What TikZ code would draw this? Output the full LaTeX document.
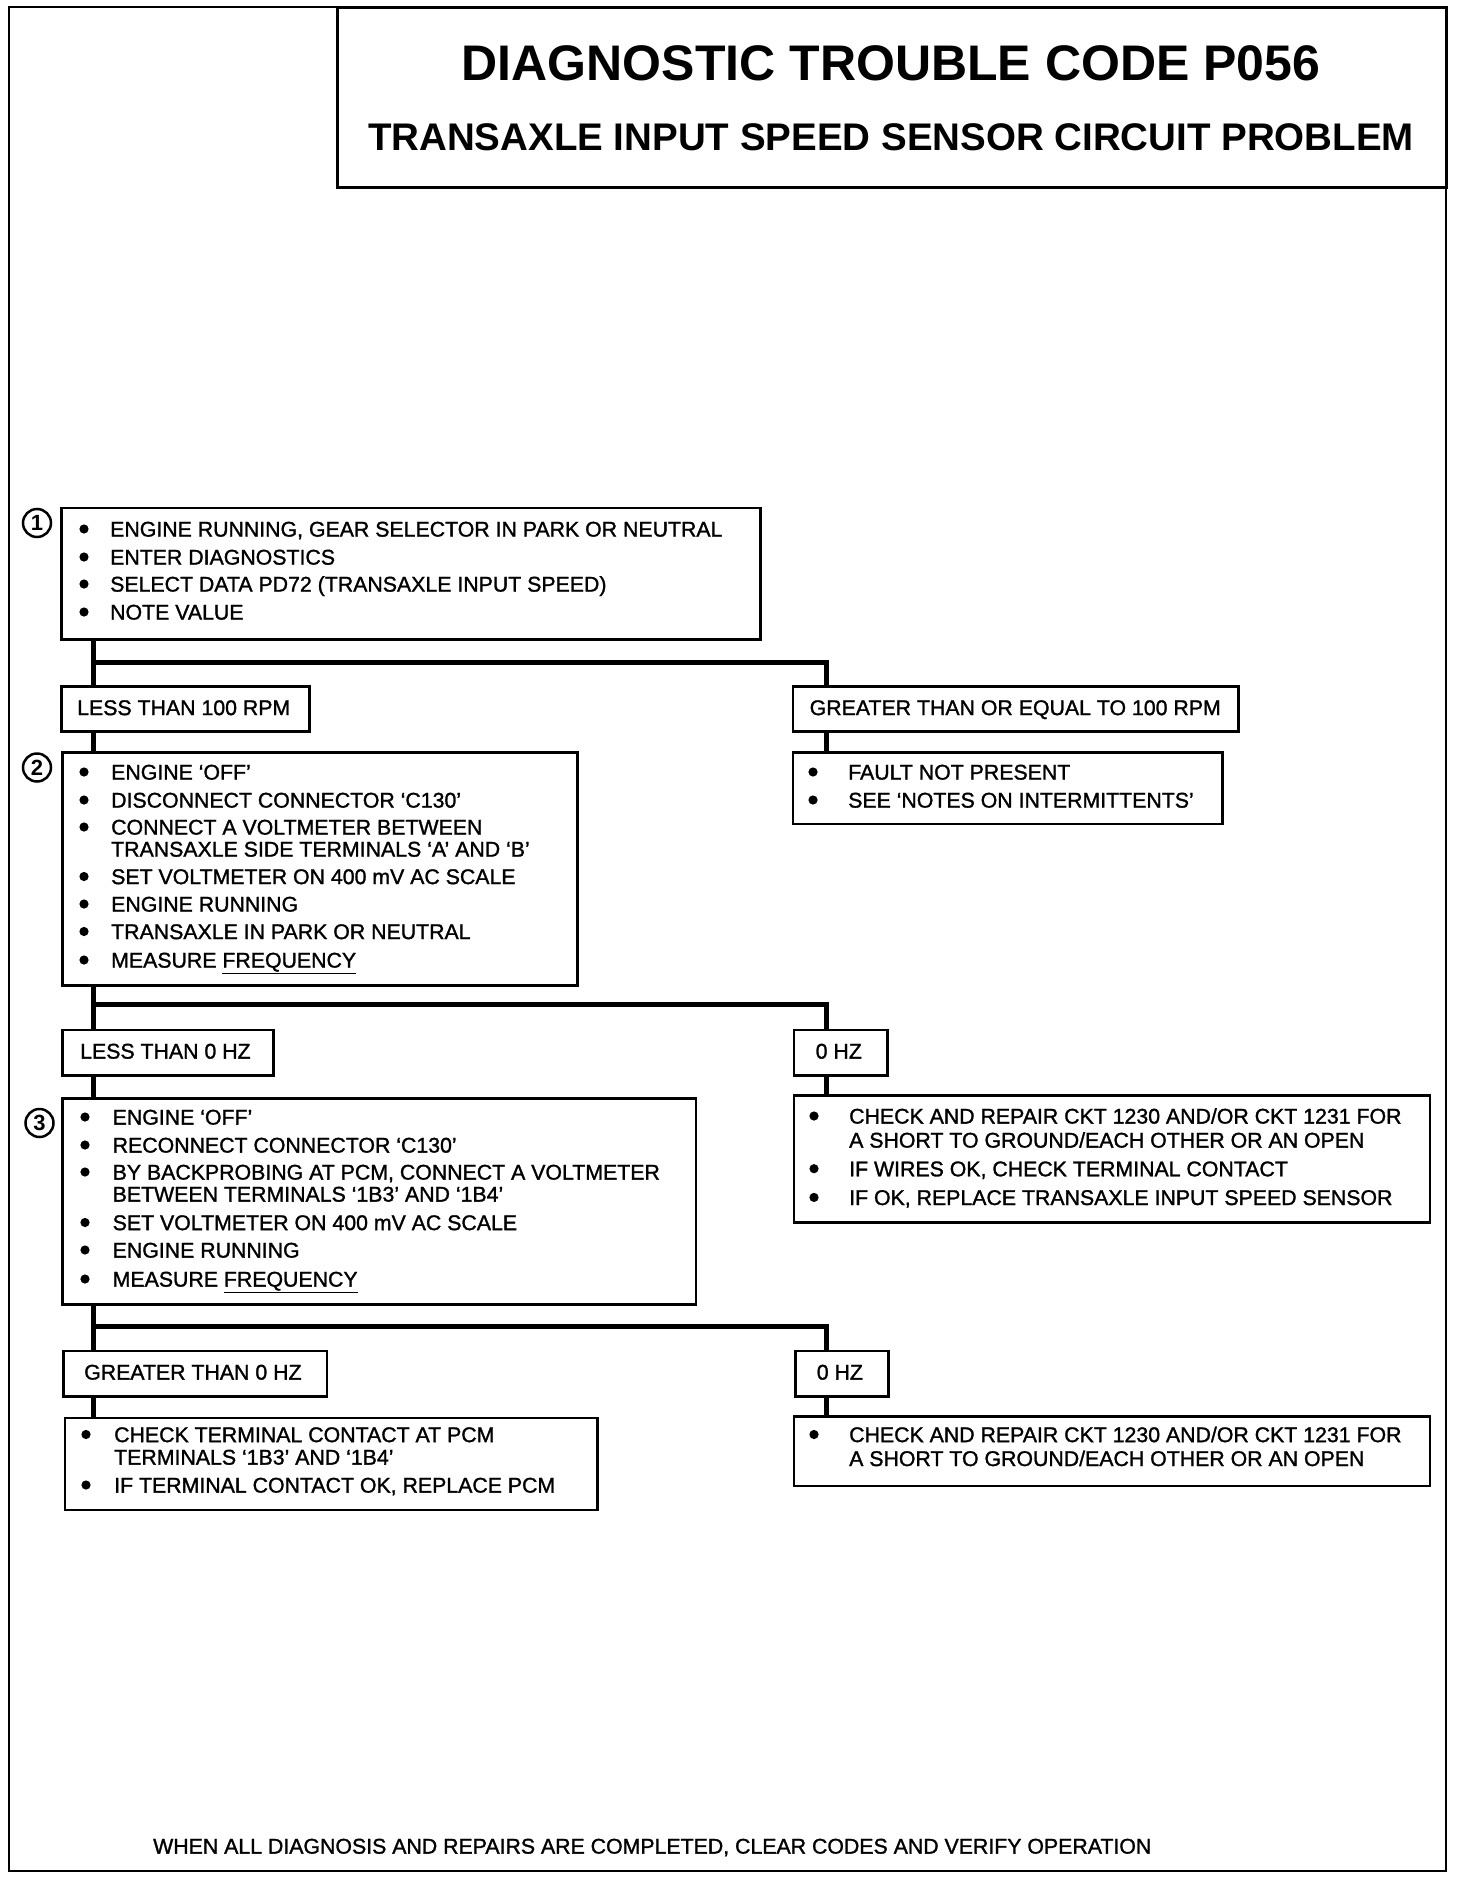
\documentclass[tikz,border=0pt]{standalone}
\usepackage{fontspec}
\setmainfont{Liberation Sans}
\newfontfamily\medfont{Liberation Sans}[FakeBold=1.3]
\newcommand\bodyfont{\medfont\fontsize{21.3pt}{21.3pt}\selectfont}
\tikzset{
  box/.style={draw, line width=2.6pt, inner sep=0pt, anchor=north west},
  conn/.style={line width=5pt, line cap=butt, line join=miter},
  txt/.style={inner sep=0pt, anchor=west, text height=15.2pt, text depth=0pt, font=\bodyfont},
  num/.style={circle, draw, line width=2.5pt, minimum size=28pt, inner sep=0pt, font=\bfseries\fontsize{22pt}{22pt}\selectfont},
}
\newcommand\mkbox[5]{\node[box, minimum width={#4-#2}, minimum height={#5-#3}] (#1) at (#2,#3) {};}
\newcommand\tl[4]{\node[txt] (#1) at (#2,#3) {#4};}
\newcommand\bl[2]{\fill (#1,#2) circle (4.6pt);}
\begin{document}
\begin{tikzpicture}[x=1pt,y=-1pt]
\fill[white] (0,0) rectangle (1456,1878);
\useasboundingbox (0,0) rectangle (1456,1878);
% frame and title
\node[draw, line width=2pt, inner sep=0pt, anchor=north west, minimum width=1437pt, minimum height=1864pt] (frame) at (8,6) {};
\node[draw, line width=3pt, inner sep=0pt, anchor=north west, minimum width=1109pt, minimum height=180pt] (tbox) at (336,6) {};
\node[inner sep=0pt, font=\bfseries\fontsize{50pt}{50pt}\selectfont] (title) at (891,63.5) {DIAGNOSTIC TROUBLE CODE P056};
\node[inner sep=0pt, font=\bfseries\fontsize{38.5pt}{38.5pt}\selectfont] (subtitle) at (891,137) {TRANSAXLE INPUT SPEED SENSOR CIRCUIT PROBLEM};

% step 1
\mkbox{b1}{60}{506.5}{759}{638}
\node[num] (n1) at (37,523) {1};
\bl{84}{529}\tl{b1a}{110}{529}{ENGINE RUNNING, GEAR SELECTOR IN PARK OR NEUTRAL}
\bl{84}{557}\tl{b1b}{110}{557}{ENTER DIAGNOSTICS}
\bl{84}{584}\tl{b1c}{110}{584}{SELECT DATA PD72 (TRANSAXLE INPUT SPEED)}
\bl{84}{612}\tl{b1d}{110}{612}{NOTE VALUE}

\mkbox{l1}{60}{685}{308}{730}
\tl{l1t}{77}{707.5}{LESS THAN 100 RPM}
\mkbox{r1}{791.5}{685}{1237}{730}
\tl{r1t}{809.5}{707.5}{GREATER THAN OR EQUAL TO 100 RPM}

% step 2
\mkbox{b2}{61}{751}{576}{984}
\node[num] (n2) at (37,767.5) {2};
\bl{84}{772}\tl{b2a}{111}{772}{ENGINE ‘OFF’}
\bl{84}{800}\tl{b2b}{111}{800}{DISCONNECT CONNECTOR ‘C130’}
\bl{84}{827}\tl{b2c}{111}{827}{CONNECT A VOLTMETER BETWEEN}
\tl{b2d}{111}{849}{TRANSAXLE SIDE TERMINALS ‘A’ AND ‘B’}
\bl{84}{876.5}\tl{b2e}{111}{876.5}{SET VOLTMETER ON 400 mV AC SCALE}
\bl{84}{904}\tl{b2f}{111}{904}{ENGINE RUNNING}
\bl{84}{931.5}\tl{b2g}{111}{931.5}{TRANSAXLE IN PARK OR NEUTRAL}
\bl{84}{960}\tl{b2h}{111}{960}{MEASURE \underline{FREQUENCY}}

\mkbox{f1}{791.5}{751}{1221}{822.6}
\bl{813}{772}\tl{f1a}{848}{772}{FAULT NOT PRESENT}
\bl{813}{800}\tl{f1b}{848}{800}{SEE ‘NOTES ON INTERMITTENTS’}

\mkbox{l2}{61}{1028.5}{272}{1074}
\tl{l2t}{80}{1051}{LESS THAN 0 HZ}
\mkbox{r2}{792.7}{1028.5}{886}{1074}
\tl{r2t}{815.5}{1051}{0 HZ}

% step 3
\mkbox{b3}{61}{1097}{694.5}{1303}
\node[num] (n3) at (39.5,1123) {3};
\bl{85}{1117}\tl{b3a}{112.5}{1117}{ENGINE ‘OFF’}
\bl{85}{1145}\tl{b3b}{112.5}{1145}{RECONNECT CONNECTOR ‘C130’}
\bl{85}{1172}\tl{b3c}{112.5}{1172}{BY BACKPROBING AT PCM, CONNECT A VOLTMETER}
\tl{b3d}{112.5}{1194}{BETWEEN TERMINALS ‘1B3’ AND ‘1B4’}
\bl{85}{1222.5}\tl{b3e}{112.5}{1222.5}{SET VOLTMETER ON 400 mV AC SCALE}
\bl{85}{1250}\tl{b3f}{112.5}{1250}{ENGINE RUNNING}
\bl{85}{1279}\tl{b3g}{112.5}{1279}{MEASURE \underline{FREQUENCY}}

\mkbox{f2}{792.7}{1094.4}{1428.5}{1221}
\bl{814}{1116}\tl{f2a}{849}{1116}{CHECK AND REPAIR CKT 1230 AND/OR CKT 1231 FOR}
\tl{f2b}{849}{1140}{A SHORT TO GROUND/EACH OTHER OR AN OPEN}
\bl{814}{1168.7}\tl{f2c}{849}{1168.7}{IF WIRES OK, CHECK TERMINAL CONTACT}
\bl{814}{1197.4}\tl{f2d}{849}{1197.4}{IF OK, REPLACE TRANSAXLE INPUT SPEED SENSOR}

\mkbox{l3}{62}{1349.5}{325.7}{1395}
\tl{l3t}{84}{1372}{GREATER THAN 0 HZ}
\mkbox{r3}{794}{1349.5}{887}{1395}
\tl{r3t}{816.6}{1372}{0 HZ}

\mkbox{f3}{63.5}{1416.5}{596}{1508.7}
\bl{86}{1434.5}\tl{f3a}{114}{1434.5}{CHECK TERMINAL CONTACT AT PCM}
\tl{f3b}{114}{1457}{TERMINALS ‘1B3’ AND ‘1B4’}
\bl{86}{1485}\tl{f3c}{114}{1485}{IF TERMINAL CONTACT OK, REPLACE PCM}

\mkbox{f4}{792.7}{1415}{1428.5}{1484.8}
\bl{814}{1434.5}\tl{f4a}{849}{1434.5}{CHECK AND REPAIR CKT 1230 AND/OR CKT 1231 FOR}
\tl{f4b}{849}{1458.4}{A SHORT TO GROUND/EACH OTHER OR AN OPEN}

\tl{foot}{153}{1846}{WHEN ALL DIAGNOSIS AND REPAIRS ARE COMPLETED, CLEAR CODES AND VERIFY OPERATION}

% connectors
\coordinate (tx) at (93.4,0);
\coordinate (rx) at (826,0);
\coordinate (j1) at (93.4,662);
\coordinate (j2) at (93.4,1004.6);
\coordinate (j3) at (93.4,1326.7);
\draw[conn] (b1.south -| tx) -- (l1.north -| tx);
\draw[conn] (j1) -- (j1 -| rx) -- (r1.north -| rx);
\draw[conn] (l1.south -| tx) -- (b2.north -| tx);
\draw[conn] (r1.south -| rx) -- (f1.north -| rx);
\draw[conn] (b2.south -| tx) -- (l2.north -| tx);
\draw[conn] (j2) -- (j2 -| rx) -- (r2.north -| rx);
\draw[conn] (l2.south -| tx) -- (b3.north -| tx);
\draw[conn] (r2.south -| rx) -- (f2.north -| rx);
\draw[conn] (b3.south -| tx) -- (l3.north -| tx);
\draw[conn] (j3) -- (j3 -| rx) -- (r3.north -| rx);
\draw[conn] (l3.south -| tx) -- (f3.north -| tx);
\draw[conn] (r3.south -| rx) -- (f4.north -| rx);
\end{tikzpicture}
\end{document}
